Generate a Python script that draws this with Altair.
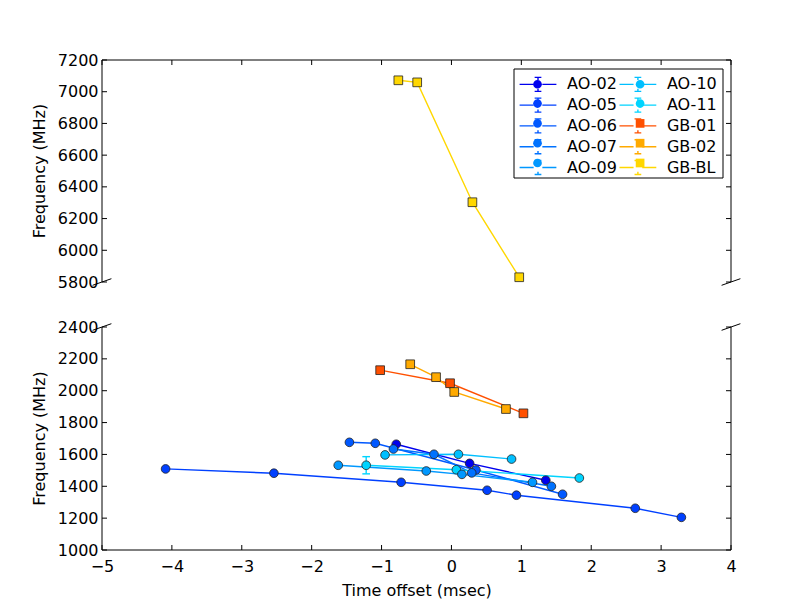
import altair as alt
import pandas as pd

# ---- series definitions ----
series_names = ["AO-02", "AO-05", "AO-06", "AO-07", "AO-09",
                "AO-10", "AO-11", "GB-01", "GB-02", "GB-BL"]
series_colors = ["#0000ee", "#0040ff", "#0058ff", "#0072ff", "#0098ff",
                 "#00bfff", "#00d4ff", "#ff5000", "#ffaa00", "#ffd700"]
series_kind = ["o", "o", "o", "o", "o", "o", "o", "s", "s", "s"]

# ---- values (time offset msec, frequency MHz) ----
ao02_x = [-0.79, 0.26, 1.35]
ao02_y = [1664, 1544, 1438]
ao05_x = [-4.09, -2.54, -0.72, 0.51, 0.93, 2.63, 3.29]
ao05_y = [1509, 1482, 1425, 1375, 1344, 1262, 1205]
ao06_x = [-1.46, -1.09, 0.35, 1.59]
ao06_y = [1676, 1670, 1502, 1350]
ao07_x = [-0.83, -0.25, 0.29, 1.43]
ao07_y = [1634, 1601, 1484, 1400]
ao09_x = [-1.62, -0.36, 0.15, 1.16]
ao09_y = [1532, 1496, 1475, 1425]
ao10_x = [-0.95, 0.10, 0.86]
ao10_y = [1597, 1601, 1571]
ao11_x = [-1.22, 0.07, 1.83]
ao11_y = [1532, 1504, 1452]
ao11_err = [54, 0, 0]
gb01_x = [-1.02, -0.02, 1.03]
gb01_y = [2129, 2047, 1858]
gb02_x = [-0.59, -0.22, 0.04, 0.78]
gb02_y = [2166, 2085, 1992, 1885]
gbbl_x = [-0.76, -0.49, 0.30, 0.97]
gbbl_y = [7072, 7059, 6303, 5830]

xs = [ao02_x, ao05_x, ao06_x, ao07_x, ao09_x, ao10_x, ao11_x, gb01_x, gb02_x, gbbl_x]
ys = [ao02_y, ao05_y, ao06_y, ao07_y, ao09_y, ao10_y, ao11_y, gb01_y, gb02_y, gbbl_y]
errs = {"AO-11": ao11_err}

# axis ticks
x_ticks = [-5, -4, -3, -2, -1, 0, 1, 2, 3, 4]
y_ticks = [1000, 1200, 1400, 1600, 1800, 2000, 2200, 2400,
           5800, 6000, 6200, 6400, 6600, 6800, 7000, 7200]

kind_of = dict(zip(series_names, series_kind))
# phantom move-to points give every legend glyph the same bounds
PH = "M-2.3,-0.875M2.3,0.875"
CIRCLE = PH + "M0.544,0A0.544,0.544,0,1,1,-0.544,0A0.544,0.544,0,1,1,0.544,0Z"
SQUARE = PH + "M-0.544,-0.544H0.544V0.544H-0.544Z"
shape_range = [CIRCLE if kind_of[n] == "o" else SQUARE for n in series_names]
# legend handle: line + errorbar with caps, gap for the marker
HANDLE = ("M-2.3,0H-0.544M0.544,0H2.3"
          "M0,-0.875V-0.544M0,0.544V0.875"
          "M-0.42,-0.875H0.42M-0.42,0.875H0.42")

rows = []
for k, (name, sx, sy) in enumerate(zip(series_names, xs, ys)):
    e = errs.get(name, [0] * len(sx))
    for i, (a, b, c) in enumerate(zip(sx, sy, e)):
        rows.append({"series": name, "x": a, "y": b, "err": c, "idx": i, "lorder": k})
df = pd.DataFrame(rows)
one = pd.DataFrame({"k": [0]})
df_xt = pd.DataFrame({"v": x_ticks})
df_yt = pd.DataFrame({"v": y_ticks})

W, H = 629, 490
TOP_H = 222      # top panel height
GAP_Y = 267      # bottom panel top
FONT = "DejaVu Sans"
FS = 16
TL = 5           # tick length
LX, LY = 422, 10.3  # legend entries position
BOX = (412, 621, 9, 118)  # legend frame

xscale = alt.Scale(domain=[-5, 4], nice=False, zero=False)
yscale = alt.Scale(domain=[1000, 2400, 5800, 7200], range=[H, GAP_Y, TOP_H, 0],
                   nice=False, zero=False)

common_leg = dict(orient="none", legendX=LX, legendY=LY, columns=2, title=None,
                  symbolSize=256, labelFont=FONT, labelFontSize=FS,
                  labelColor="black", labelOffset=20, labelLimit=200,
                  padding=5, rowPadding=0.8)

stroke_enc = alt.Stroke("series:N",
                        sort=alt.EncodingSortField(field="lorder", op="min"),
                        scale=alt.Scale(range=series_colors),
                        legend=alt.Legend(symbolType=HANDLE, symbolStrokeWidth=1.4,
                                          symbolFillColor="transparent",
                                          columnPadding=-1.1, **common_leg))

# marker-only legend drawn on the same spot (no label text of its own)
fill_legend = alt.Legend(symbolStrokeColor="#222", symbolStrokeWidth=0.8,
                         labelExpr="''", columnPadding=53.6, **common_leg)

xax = alt.Axis(values=x_ticks, format="d", domain=False, ticks=False,
               tickSize=0, grid=False, labelPadding=8,
               labelFlush=False, labelOverlap=False,
               title="Time offset (msec)", titlePadding=8)
yax = alt.Axis(values=y_ticks, format="d", domain=False, ticks=False,
               tickSize=0, grid=False, labelPadding=4,
               labelOverlap=False, title=None)

lines = alt.Chart(df).mark_line(strokeWidth=1.4).encode(
    x=alt.X("x:Q", scale=xscale, axis=xax),
    y=alt.Y("y:Q", scale=yscale, axis=yax),
    stroke=stroke_enc,
    order="idx:Q",
)

errbase = alt.Chart(df).transform_filter("datum.err > 0").transform_calculate(
    lo="datum.y - datum.err", hi="datum.y + datum.err")
err_v = errbase.mark_rule(strokeWidth=1.4).encode(
    x=alt.X("x:Q", scale=xscale, axis=xax),
    y=alt.Y("lo:Q", scale=yscale, axis=yax), y2="hi:Q",
    stroke=stroke_enc)
err_lo = errbase.mark_rule(strokeWidth=1.4, xOffset=-3.85, x2Offset=3.85).encode(
    x=alt.X("x:Q", scale=xscale, axis=xax), x2="x:Q",
    y=alt.Y("lo:Q", scale=yscale, axis=yax), stroke=stroke_enc)
err_hi = errbase.mark_rule(strokeWidth=1.4, xOffset=-3.85, x2Offset=3.85).encode(
    x=alt.X("x:Q", scale=xscale, axis=xax), x2="x:Q",
    y=alt.Y("hi:Q", scale=yscale, axis=yax), stroke=stroke_enc)

points = alt.Chart(df).mark_point(filled=True, size=256, opacity=1,
                                  stroke="#222", strokeWidth=0.8).encode(
    x=alt.X("x:Q", scale=xscale, axis=xax),
    y=alt.Y("y:Q", scale=yscale, axis=yax),
    fill=alt.Fill("series:N", scale=alt.Scale(domain=series_names, range=series_colors),
                  legend=fill_legend),
    shape=alt.Shape("series:N", scale=alt.Scale(domain=series_names, range=shape_range),
                    legend=fill_legend),
    order="idx:Q",
)

# frame (spines) and axis-break marks
def seg(**kw):
    return alt.Chart(one).mark_rule(color="black", strokeWidth=1).encode(
        **{k: alt.value(v) for k, v in kw.items()})

frame = [
    seg(x=0, y=0, y2=TOP_H), seg(x=W, y=0, y2=TOP_H),
    seg(x=0, x2=W, y=0),
    seg(x=0, y=GAP_Y, y2=H), seg(x=W, y=GAP_Y, y2=H),
    seg(x=0, x2=W, y=H),
    seg(x=-9.4, y=TOP_H + 3.3, x2=9.4, y2=TOP_H - 3.3),
    seg(x=W - 9.4, y=TOP_H + 3.3, x2=W + 9.4, y2=TOP_H - 3.3),
    seg(x=-9.4, y=GAP_Y + 3.3, x2=9.4, y2=GAP_Y - 3.3),
    seg(x=W - 9.4, y=GAP_Y + 3.3, x2=W + 9.4, y2=GAP_Y - 3.3),
]
legend_box = alt.Chart(one).mark_rect(fillOpacity=0, stroke="black", strokeWidth=1).encode(
    x=alt.value(BOX[0]), x2=alt.value(BOX[1]), y=alt.value(BOX[2]), y2=alt.value(BOX[3]))

ytick_l = alt.Chart(df_yt).mark_rule(color="black", strokeWidth=1).encode(
    y=alt.Y("v:Q", scale=yscale, axis=yax), x=alt.value(0), x2=alt.value(TL))
ytick_r = alt.Chart(df_yt).mark_rule(color="black", strokeWidth=1).encode(
    y=alt.Y("v:Q", scale=yscale, axis=yax), x=alt.value(W - TL), x2=alt.value(W))
xtick_t = alt.Chart(df_xt).mark_rule(color="black", strokeWidth=1).encode(
    x=alt.X("v:Q", scale=xscale, axis=xax), y=alt.value(0), y2=alt.value(TL))
xtick_b = alt.Chart(df_xt).mark_rule(color="black", strokeWidth=1).encode(
    x=alt.X("v:Q", scale=xscale, axis=xax), y=alt.value(H - TL), y2=alt.value(H))

def ytitle(yc):
    return alt.Chart(one).mark_text(text="Frequency (MHz)", angle=270, font=FONT,
                                    fontSize=FS, align="center", baseline="middle",
                                    color="black").encode(
        x=alt.value(-62), y=alt.value(yc))

chart = alt.layer(
    ytick_l, ytick_r, xtick_t, xtick_b, *frame,
    err_v, err_lo, err_hi, lines, points, legend_box,
    ytitle(TOP_H / 2), ytitle((GAP_Y + H) / 2),
).properties(
    width=W, height=H,
    autosize=alt.AutoSizeParams(type="none"),
    padding={"left": 94, "top": 52, "right": 73, "bottom": 54},
    background="white",
).configure_view(stroke=None).configure_axis(
    labelFont=FONT, labelFontSize=FS, labelColor="black",
    titleFont=FONT, titleFontSize=FS, titleFontWeight="normal", titleColor="black",
)

chart.save("out.html", embed_options={"renderer": "svg", "actions": False})
